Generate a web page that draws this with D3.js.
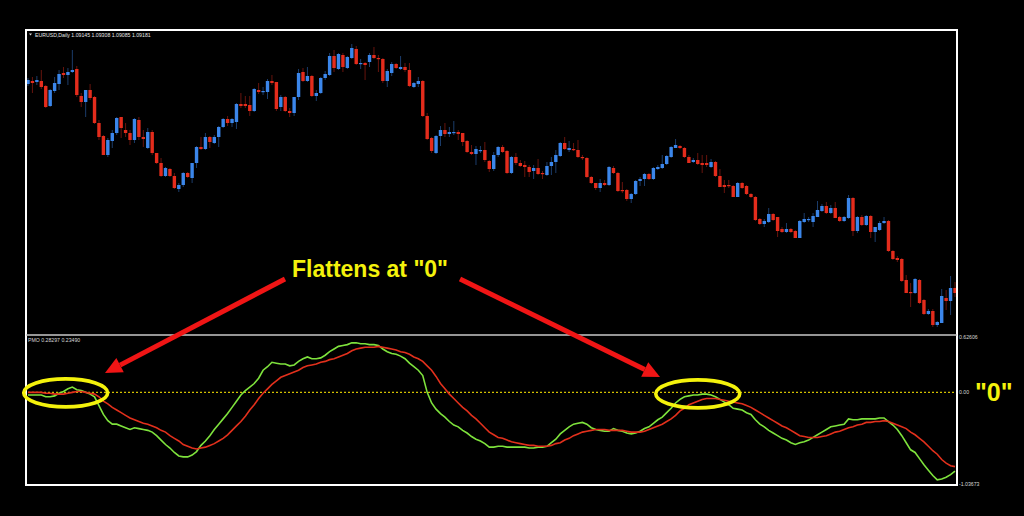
<!DOCTYPE html>
<html>
<head>
<meta charset="utf-8">
<script src="https://cdn.jsdelivr.net/npm/d3@7"></script>
<style>
  html, body { margin: 0; padding: 0; background: #000; overflow: hidden; }
</style>
</head>
<body>
<svg width="1024" height="516"></svg>
<script>
// EURUSD daily candles
const opens = [
  1.1124,1.1127,1.1126,1.1127,1.1122,1.1102,1.1117,1.1124,1.1135,1.1133,
  1.1136,1.1139,1.1112,1.1106,1.1118,1.1111,1.1085,1.1072,1.1053,1.1067,
  1.1075,1.1091,1.1078,1.1075,1.1068,1.1088,1.1071,1.1060,1.1076,1.1055,
  1.1045,1.1032,1.1039,1.1032,1.1019,1.1023,1.1035,1.1030,1.1045,1.1061,
  1.1059,1.1071,1.1065,1.1071,1.1081,1.1089,1.1085,1.1086,1.1104,1.1104,
  1.1103,1.1097,1.1118,1.1116,1.1116,1.1127,1.1126,1.1101,1.1111,1.1097,
  1.1095,1.1111,1.1136,1.1127,1.1132,1.1112,1.1115,1.1130,1.1133,1.1152,
  1.1139,1.1153,1.1140,1.1150,1.1159,1.1144,1.1145,1.1146,1.1153,1.1150,
  1.1149,1.1127,1.1135,1.1144,1.1139,1.1141,1.1138,1.1121,1.1124,1.1127,
  1.1092,1.1070,1.1055,1.1072,1.1078,1.1074,1.1075,1.1076,1.1075,1.1067,
  1.1056,1.1054,1.1057,1.1058,1.1047,1.1039,1.1053,1.1061,1.1057,1.1035,
  1.1051,1.1045,1.1043,1.1041,1.1037,1.1040,1.1035,1.1033,1.1042,1.1046,
  1.1052,1.1065,1.1058,1.1059,1.1058,1.1051,1.1050,1.1031,1.1025,1.1020,
  1.1025,1.1023,1.1040,1.1035,1.1018,1.1018,1.1009,1.1014,1.1027,1.1029,
  1.1034,1.1029,1.1039,1.1040,1.1044,1.1051,1.1060,1.1062,1.1060,1.1051,
  1.1046,1.1048,1.1045,1.1045,1.1041,1.1046,1.1032,1.1023,1.1023,1.1022,
  1.1011,1.1025,1.1022,1.1014,1.1011,1.0989,1.0984,1.0986,1.0994,1.0991,
  1.0979,1.0976,1.0979,1.0977,1.0970,1.0986,1.0988,1.0986,1.0991,1.0997,
  1.1002,1.0995,1.1000,1.0991,1.0987,1.0990,1.1010,1.0977,1.0991,1.0983,
  1.0992,1.0976,1.0978,1.0985,1.0987,1.0957,1.0950,1.0949,1.0928,1.0916,
  1.0915,1.0928,1.0908,1.0894,1.0897,1.0883,1.0885,1.0910,1.0907,1.0920
];
const highs = [
  1.1130,1.1131,1.1132,1.1138,1.1123,1.1119,1.1131,1.1138,1.1141,1.1140,
  1.1158,1.1142,1.1115,1.1118,1.1124,1.1112,1.1088,1.1073,1.1070,1.1078,
  1.1091,1.1091,1.1085,1.1078,1.1090,1.1091,1.1078,1.1080,1.1078,1.1055,
  1.1050,1.1041,1.1040,1.1035,1.1025,1.1036,1.1036,1.1045,1.1062,1.1071,
  1.1075,1.1072,1.1073,1.1082,1.1090,1.1092,1.1090,1.1105,1.1115,1.1112,
  1.1112,1.1120,1.1125,1.1121,1.1129,1.1133,1.1126,1.1113,1.1112,1.1100,
  1.1111,1.1139,1.1140,1.1141,1.1133,1.1118,1.1131,1.1137,1.1155,1.1158,
  1.1155,1.1155,1.1152,1.1164,1.1162,1.1149,1.1146,1.1155,1.1161,1.1153,
  1.1150,1.1139,1.1146,1.1145,1.1152,1.1145,1.1145,1.1126,1.1131,1.1128,
  1.1095,1.1071,1.1073,1.1082,1.1085,1.1081,1.1087,1.1078,1.1075,1.1068,
  1.1063,1.1062,1.1062,1.1066,1.1048,1.1056,1.1062,1.1063,1.1058,1.1052,
  1.1055,1.1048,1.1047,1.1043,1.1043,1.1049,1.1037,1.1046,1.1051,1.1058,
  1.1066,1.1071,1.1067,1.1065,1.1068,1.1053,1.1051,1.1032,1.1025,1.1029,
  1.1028,1.1042,1.1042,1.1036,1.1026,1.1019,1.1015,1.1028,1.1031,1.1035,
  1.1035,1.1041,1.1043,1.1053,1.1053,1.1062,1.1069,1.1063,1.1061,1.1053,
  1.1050,1.1055,1.1053,1.1053,1.1049,1.1047,1.1039,1.1028,1.1028,1.1023,
  1.1026,1.1026,1.1023,1.1015,1.1012,1.0990,1.0989,1.1000,1.0995,1.0991,
  1.0981,1.0985,1.0980,1.0978,1.0988,1.0995,1.0991,1.0995,1.1007,1.1004,
  1.1006,1.1003,1.1006,1.0992,1.0992,1.1013,1.1011,1.0992,1.0993,1.0993,
  1.0993,1.0981,1.0987,1.0991,1.0988,1.0958,1.0952,1.0950,1.0933,1.0925,
  1.0930,1.0929,1.0909,1.0899,1.0899,1.0887,1.0919,1.0918,1.0932,1.0926
];
const lows = [
  1.1122,1.1115,1.1123,1.1119,1.1100,1.1101,1.1115,1.1118,1.1130,1.1123,
  1.1135,1.1111,1.1101,1.1091,1.1108,1.1084,1.1068,1.1053,1.1051,1.1060,
  1.1073,1.1070,1.1071,1.1063,1.1065,1.1068,1.1061,1.1059,1.1053,1.1044,
  1.1031,1.1031,1.1031,1.1019,1.1016,1.1021,1.1030,1.1025,1.1040,1.1058,
  1.1058,1.1060,1.1064,1.1061,1.1080,1.1082,1.1081,1.1079,1.1100,1.1100,
  1.1092,1.1096,1.1114,1.1113,1.1109,1.1123,1.1097,1.1097,1.1096,1.1091,
  1.1092,1.1108,1.1126,1.1126,1.1111,1.1107,1.1114,1.1128,1.1132,1.1136,
  1.1138,1.1136,1.1139,1.1149,1.1143,1.1139,1.1128,1.1141,1.1149,1.1136,
  1.1125,1.1121,1.1132,1.1139,1.1138,1.1136,1.1121,1.1120,1.1121,1.1091,
  1.1068,1.1055,1.1054,1.1062,1.1071,1.1071,1.1073,1.1068,1.1062,1.1055,
  1.1053,1.1043,1.1055,1.1046,1.1036,1.1037,1.1051,1.1055,1.1034,1.1034,
  1.1043,1.1041,1.1031,1.1031,1.1029,1.1033,1.1029,1.1032,1.1033,1.1035,
  1.1051,1.1058,1.1056,1.1057,1.1050,1.1048,1.1030,1.1024,1.1018,1.1016,
  1.1022,1.1022,1.1034,1.1016,1.1015,1.1007,1.1005,1.1013,1.1022,1.1022,
  1.1028,1.1028,1.1038,1.1039,1.1043,1.1050,1.1060,1.1059,1.1050,1.1045,
  1.1045,1.1043,1.1035,1.1041,1.1040,1.1031,1.1021,1.1015,1.1020,1.1011,
  1.1011,1.1019,1.1013,1.1010,1.0987,1.0983,1.0981,1.0985,1.0987,1.0971,
  1.0975,1.0975,1.0975,1.0970,1.0970,1.0985,1.0986,1.0981,1.0991,1.0996,
  1.0994,1.0994,1.0990,1.0986,1.0986,1.0989,1.0972,1.0975,1.0982,1.0982,
  1.0970,1.0966,1.0977,1.0984,1.0956,1.0948,1.0946,1.0926,1.0915,1.0901,
  1.0914,1.0904,1.0893,1.0893,1.0881,1.0881,1.0885,1.0898,1.0893,1.0911
];
const closes = [
  1.1128,1.1125,1.1128,1.1121,1.1101,1.1118,1.1125,1.1134,1.1133,1.1136,
  1.1138,1.1113,1.1106,1.1118,1.1110,1.1085,1.1071,1.1053,1.1068,1.1075,
  1.1090,1.1080,1.1075,1.1068,1.1089,1.1071,1.1069,1.1076,1.1055,1.1045,
  1.1032,1.1040,1.1032,1.1020,1.1023,1.1035,1.1031,1.1045,1.1061,1.1059,
  1.1071,1.1066,1.1071,1.1081,1.1089,1.1085,1.1089,1.1104,1.1102,1.1102,
  1.1097,1.1119,1.1116,1.1117,1.1127,1.1125,1.1099,1.1111,1.1097,1.1095,
  1.1111,1.1135,1.1127,1.1132,1.1112,1.1115,1.1130,1.1134,1.1152,1.1140,
  1.1154,1.1141,1.1151,1.1160,1.1144,1.1145,1.1143,1.1153,1.1150,1.1149,
  1.1127,1.1137,1.1144,1.1140,1.1141,1.1138,1.1122,1.1125,1.1127,1.1092,
  1.1069,1.1057,1.1072,1.1078,1.1074,1.1076,1.1076,1.1074,1.1066,1.1056,
  1.1054,1.1059,1.1058,1.1048,1.1039,1.1053,1.1061,1.1056,1.1035,1.1051,
  1.1045,1.1042,1.1041,1.1036,1.1040,1.1034,1.1034,1.1042,1.1046,1.1053,
  1.1065,1.1059,1.1060,1.1058,1.1051,1.1050,1.1031,1.1025,1.1020,1.1025,
  1.1023,1.1041,1.1035,1.1017,1.1017,1.1009,1.1014,1.1027,1.1029,1.1034,
  1.1029,1.1040,1.1041,1.1044,1.1052,1.1061,1.1063,1.1060,1.1051,1.1045,
  1.1048,1.1044,1.1043,1.1043,1.1046,1.1032,1.1021,1.1021,1.1022,1.1011,
  1.1025,1.1020,1.1014,1.1011,1.0988,1.0984,1.0987,1.0994,1.0988,1.0977,
  1.0976,1.0979,1.0976,1.0970,1.0987,1.0989,1.0989,1.0992,1.0998,1.1002,
  1.0995,1.1000,1.0990,1.0987,1.0991,1.1010,1.0977,1.0991,1.0983,1.0992,
  1.0976,1.0981,1.0985,1.0987,1.0957,1.0949,1.0948,1.0927,1.0915,1.0915,
  1.0929,1.0905,1.0894,1.0897,1.0883,1.0886,1.0912,1.0907,1.0920,1.0915
];

// PMO (green) and its signal (red)
const pmo = [
  -0.03,-0.03,-0.03,-0.03,-0.05,-0.05,-0.04,-0.01,0.01,0.04,
  0.06,0.03,0.02,0.00,-0.02,-0.05,-0.15,-0.25,-0.32,-0.36,
  -0.36,-0.38,-0.40,-0.42,-0.40,-0.41,-0.42,-0.43,-0.45,-0.49,
  -0.54,-0.59,-0.63,-0.68,-0.72,-0.73,-0.73,-0.71,-0.67,-0.60,
  -0.55,-0.49,-0.42,-0.36,-0.30,-0.24,-0.17,-0.10,-0.03,0.02,
  0.06,0.10,0.16,0.25,0.29,0.34,0.33,0.32,0.32,0.30,
  0.31,0.35,0.38,0.40,0.38,0.38,0.39,0.42,0.46,0.49,
  0.52,0.53,0.54,0.56,0.56,0.55,0.55,0.54,0.54,0.53,
  0.49,0.46,0.44,0.43,0.41,0.38,0.33,0.29,0.25,0.19,
  0.00,-0.12,-0.19,-0.24,-0.28,-0.33,-0.37,-0.39,-0.43,-0.46,
  -0.50,-0.53,-0.55,-0.58,-0.62,-0.62,-0.61,-0.61,-0.62,-0.62,
  -0.62,-0.62,-0.62,-0.63,-0.63,-0.62,-0.62,-0.61,-0.57,-0.53,
  -0.47,-0.43,-0.39,-0.36,-0.35,-0.34,-0.36,-0.40,-0.42,-0.43,
  -0.44,-0.44,-0.41,-0.43,-0.44,-0.46,-0.47,-0.46,-0.44,-0.41,
  -0.39,-0.35,-0.31,-0.28,-0.23,-0.18,-0.12,-0.08,-0.05,-0.04,
  -0.03,-0.03,-0.02,-0.02,-0.03,-0.05,-0.08,-0.11,-0.14,-0.18,
  -0.19,-0.20,-0.23,-0.25,-0.31,-0.36,-0.39,-0.43,-0.46,-0.49,
  -0.52,-0.54,-0.57,-0.59,-0.57,-0.56,-0.54,-0.51,-0.48,-0.45,
  -0.42,-0.39,-0.38,-0.37,-0.36,-0.30,-0.31,-0.31,-0.30,-0.30,
  -0.30,-0.30,-0.29,-0.29,-0.33,-0.37,-0.42,-0.49,-0.57,-0.65,
  -0.68,-0.75,-0.82,-0.88,-0.94,-0.99,-0.98,-0.96,-0.93,-0.89
];
const signal = [
  0.00,0.00,0.00,0.00,-0.01,-0.01,-0.02,-0.02,-0.02,-0.01,
  0.00,0.01,0.01,0.00,-0.01,-0.02,-0.05,-0.10,-0.13,-0.17,
  -0.20,-0.23,-0.26,-0.29,-0.31,-0.33,-0.35,-0.36,-0.38,-0.40,
  -0.43,-0.45,-0.49,-0.52,-0.55,-0.59,-0.61,-0.63,-0.64,-0.63,
  -0.62,-0.60,-0.58,-0.55,-0.52,-0.48,-0.43,-0.38,-0.33,-0.27,
  -0.20,-0.14,-0.07,-0.01,0.04,0.09,0.13,0.17,0.19,0.21,
  0.23,0.25,0.28,0.30,0.31,0.32,0.34,0.35,0.37,0.38,
  0.40,0.42,0.44,0.47,0.49,0.50,0.51,0.51,0.51,0.52,
  0.51,0.50,0.49,0.48,0.46,0.45,0.43,0.40,0.38,0.35,
  0.30,0.25,0.18,0.10,0.04,-0.02,-0.07,-0.12,-0.17,-0.21,
  -0.26,-0.30,-0.35,-0.40,-0.45,-0.48,-0.51,-0.52,-0.54,-0.56,
  -0.57,-0.58,-0.59,-0.60,-0.60,-0.61,-0.61,-0.61,-0.60,-0.58,
  -0.57,-0.54,-0.52,-0.49,-0.47,-0.45,-0.44,-0.43,-0.42,-0.42,
  -0.42,-0.43,-0.43,-0.43,-0.43,-0.44,-0.45,-0.45,-0.45,-0.44,
  -0.42,-0.40,-0.38,-0.36,-0.33,-0.30,-0.26,-0.21,-0.18,-0.14,
  -0.12,-0.10,-0.08,-0.07,-0.07,-0.07,-0.08,-0.09,-0.10,-0.11,
  -0.12,-0.13,-0.15,-0.17,-0.20,-0.23,-0.26,-0.29,-0.32,-0.35,
  -0.38,-0.40,-0.43,-0.46,-0.49,-0.50,-0.51,-0.51,-0.51,-0.50,
  -0.49,-0.47,-0.45,-0.44,-0.42,-0.40,-0.39,-0.37,-0.36,-0.34,
  -0.34,-0.33,-0.33,-0.32,-0.33,-0.35,-0.37,-0.39,-0.41,-0.45,
  -0.48,-0.52,-0.56,-0.61,-0.66,-0.70,-0.76,-0.80,-0.83,-0.84
];

// indicator window scale labels
const pmoTicks = [0.62606, 0.00, -1.03673];
const pmoTickLabels = ["0.62606", "0.00", "-1.03673"];
const priceRange = [1.0873, 1.1178];
const header = "EURUSD,Daily  1.09145 1.09308 1.09085 1.09181";
const pmoHeader = "PMO 0.28297 0.23490";

var svg = d3.select("svg");
svg.append("rect").attr("width", 1024).attr("height", 516).attr("fill", "#000");

var n = closes.length;
var x = d3.scaleLinear().domain([0, n - 1]).range([28, 955]);
var y = d3.scaleLinear().domain(priceRange).range([335, 30]);
var yp = d3.scaleLinear().domain([pmoTicks[2], pmoTicks[0]]).range([484, 337]);

var bull = "#3b86ea", bear = "#e42c1c";
var bars = d3.range(n).map(function(i) {
  return {i: i, o: opens[i], h: highs[i], l: lows[i], c: closes[i]};
});

// candles
var cg = svg.append("g");
cg.selectAll("line")
  .data(bars)
  .enter()
  .append("line")
    .attr("x1", function(d) { return x(d.i); })
    .attr("x2", function(d) { return x(d.i); })
    .attr("y1", function(d) { return y(d.h); })
    .attr("y2", function(d) { return y(d.l); })
    .attr("stroke", function(d) { return d.c >= d.o ? bull : bear; })
    .attr("stroke-opacity", 0.45)
    .attr("stroke-width", 1);

cg.selectAll("rect")
  .data(bars)
  .enter()
  .append("rect")
    .attr("x", function(d) { return x(d.i) - 1.7; })
    .attr("width", 3.4)
    .attr("y", function(d) { return y(Math.max(d.o, d.c)); })
    .attr("height", function(d) { return Math.max(1.2, Math.abs(y(d.o) - y(d.c))); })
    .attr("fill", function(d) { return d.c >= d.o ? bull : bear; });

// indicator window
svg.append("line")
  .attr("x1", 28).attr("x2", 956)
  .attr("y1", yp(0)).attr("y2", yp(0))
  .attr("stroke", "#d2c000")
  .attr("stroke-width", 1.2)
  .attr("stroke-dasharray", "2,2");

var line = d3.line()
  .x(function(d, i) { return x(i); })
  .y(function(d) { return yp(d); });

svg.append("path").datum(pmo)
  .attr("d", line).attr("fill", "none")
  .attr("stroke", "#7ee23c").attr("stroke-width", 1.6);
svg.append("path").datum(signal)
  .attr("d", line).attr("fill", "none")
  .attr("stroke", "#e2301c").attr("stroke-width", 1.6);

// frame
svg.append("rect")
  .attr("x", 26).attr("y", 30).attr("width", 931).attr("height", 455)
  .attr("fill", "none").attr("stroke", "#fff").attr("stroke-width", 2);
svg.append("line")
  .attr("x1", 26).attr("x2", 957).attr("y1", 335).attr("y2", 335)
  .attr("stroke", "#c8c8c8").attr("stroke-width", 1.5);

// small labels
svg.append("path")
  .attr("d", "M29,33.5 L32,33.5 L30.5,35.5 Z").attr("fill", "#ddd");
svg.append("text")
  .attr("x", 35).attr("y", 36.5)
  .attr("font-family", "Liberation Sans, Arial, sans-serif")
  .attr("font-size", 5.2).attr("fill", "#e6e6e6")
  .text(header);
svg.append("text")
  .attr("x", 28).attr("y", 341.5)
  .attr("font-family", "Liberation Sans, Arial, sans-serif")
  .attr("font-size", 5.2).attr("fill", "#d8d8d8")
  .text(pmoHeader);

svg.selectAll("text.tick")
  .data(pmoTicks)
  .enter()
  .append("text")
    .attr("class", "tick")
    .attr("x", 959)
    .attr("y", function(d) { return yp(d) + 2; })
    .attr("font-family", "Liberation Sans, Arial, sans-serif")
    .attr("font-size", 5.2).attr("fill", "#d8d8d8")
    .text(function(d, i) { return pmoTickLabels[i]; });

// annotations
var yellow = "#f4f20c", red = "#f01515";

svg.append("ellipse")
  .attr("cx", x(8.5)).attr("cy", yp(0) + 0.5)
  .attr("rx", 42).attr("ry", 14)
  .attr("fill", "none").attr("stroke", yellow).attr("stroke-width", 3.6);
svg.append("ellipse")
  .attr("cx", x(151)).attr("cy", yp(0) + 1.5)
  .attr("rx", 42).attr("ry", 14)
  .attr("fill", "none").attr("stroke", yellow).attr("stroke-width", 3.6);

function arrow(x1, y1, x2, y2) {
  var a = Math.atan2(y2 - y1, x2 - x1), len = 17, hw = 8;
  var bx = x2 - len * Math.cos(a), by = y2 - len * Math.sin(a);
  svg.append("line")
    .attr("x1", x1).attr("y1", y1).attr("x2", bx).attr("y2", by)
    .attr("stroke", red).attr("stroke-width", 5);
  var px = -Math.sin(a) * hw, py = Math.cos(a) * hw;
  svg.append("path")
    .attr("d", "M" + x2 + "," + y2 + " L" + (bx + px) + "," + (by + py) +
               " L" + (bx - px) + "," + (by - py) + " Z")
    .attr("fill", red);
}
arrow(285, 279, 105, 373);
arrow(460, 279, 660, 377);

svg.append("text")
  .attr("x", 292).attr("y", 277)
  .attr("font-family", "Liberation Sans, Arial, sans-serif")
  .attr("font-weight", "bold").attr("font-size", 23)
  .attr("fill", yellow)
  .text("Flattens at \"0\"");

svg.append("text")
  .attr("x", 975).attr("y", 401)
  .attr("font-family", "Liberation Sans, Arial, sans-serif")
  .attr("font-weight", "bold").attr("font-size", 25)
  .attr("fill", yellow)
  .text("\"0\"");
</script>
</body>
</html>
